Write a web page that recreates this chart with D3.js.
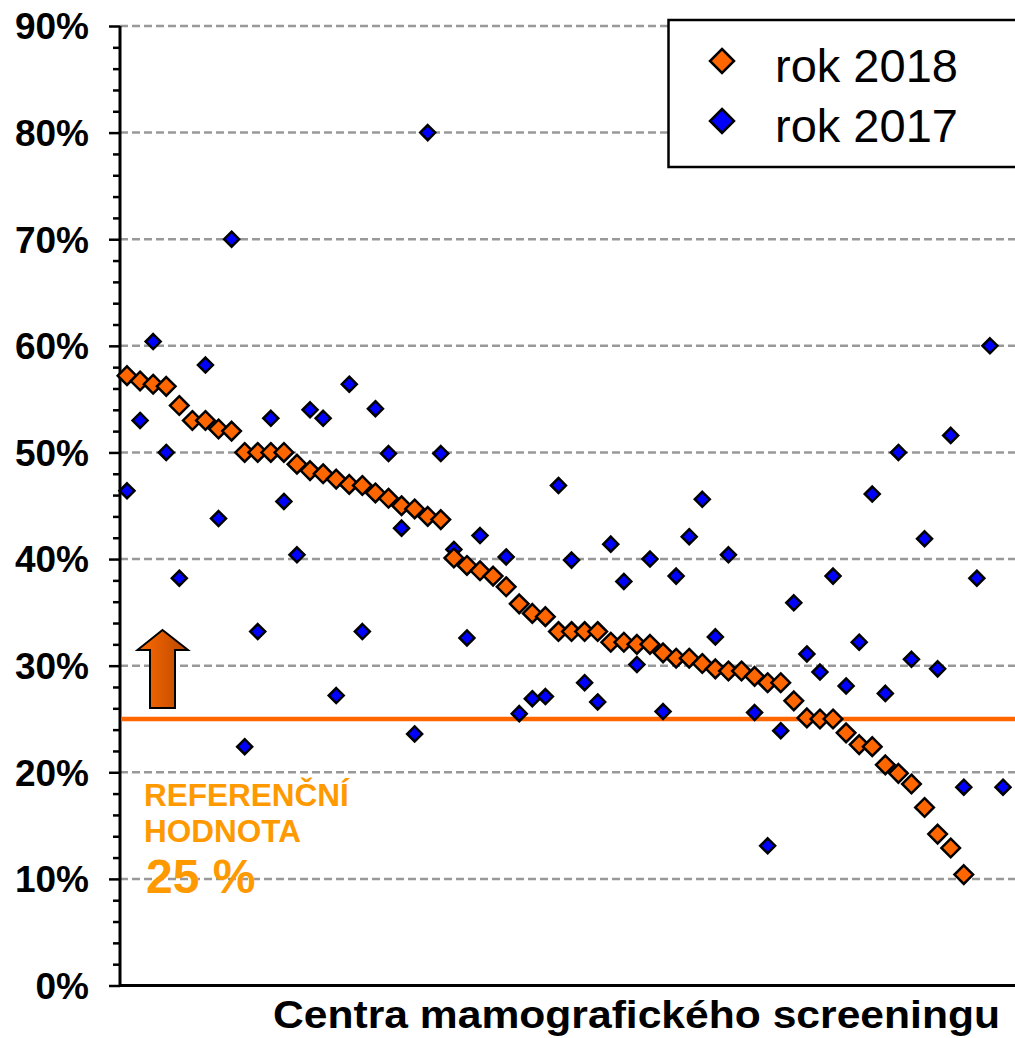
<!DOCTYPE html>
<html>
<head>
<meta charset="utf-8">
<script src="https://cdn.jsdelivr.net/npm/d3@7"></script>
<style>
  body { margin: 0; background: #fff; }
  svg { display: block; font-family: "Liberation Sans", Arial, sans-serif; }
</style>
</head>
<body>
<svg id="chart" width="1015" height="1038"></svg>
<script>
// values in percent (one entry per centre)
let rok2018 = [57.2, 56.7, 56.4, 56.2, 54.4, 53.0, 53.0, 52.2, 52.0, 50.0,
  50.0, 50.0, 50.0, 48.9, 48.3, 48.0, 47.5, 47.0, 46.9, 46.2,
  45.7, 45.0, 44.7, 44.0, 43.7, 40.1, 39.4, 38.9, 38.4, 37.4,
  35.8, 34.9, 34.6, 33.2, 33.2, 33.2, 33.2, 32.2, 32.2, 32.0,
  32.0, 31.2, 30.7, 30.7, 30.2, 29.7, 29.5, 29.5, 29.0, 28.4,
  28.4, 26.7, 25.1, 25.0, 25.0, 23.7, 22.6, 22.4, 20.7, 19.9,
  18.9, 16.7, 14.2, 12.9, 10.4];

let rok2017 = [46.4, 53.0, 60.4, 50.0, 38.2, null, 58.2, 43.8, 70.0, 22.4,
  33.2, 53.2, 45.4, 40.4, 54.0, 53.2, 27.2, 56.4, 33.2, 54.1,
  49.9, 42.9, 23.6, 80.0, 49.9, 40.9, 32.6, 42.2, null, 40.2,
  25.5, 26.9, 27.1, 46.9, 39.9, 28.4, 26.6, 41.4, 37.9, 30.1,
  40.0, 25.7, 38.4, 42.1, 45.6, 32.7, 40.4, null, 25.6, 13.1,
  23.9, 35.9, 31.1, 29.4, 38.4, 28.1, 32.2, 46.1, 27.4, 50.0,
  30.6, 41.9, 29.7, 51.6, 18.6, 38.2, 60.0, 18.6];

let centra = d3.range(1, rok2017.length + 1);
let yTicks = [0, 10, 20, 30, 40, 50, 60, 70, 80, 90];
let referencni = 25;
let legendItems = ["rok 2018", "rok 2017"];

let svg = d3.select("#chart");
let plotLeft = 120, plotRight = 1015, plotTop = 26, plotBottom = 985.5;

let x = d3.scalePoint()
  .domain(centra)
  .range([127, 1003]);

let y = d3.scaleLinear()
  .domain([0, 90])
  .range([plotBottom, plotTop]);

function diamond(r){
  return "M0," + (-r) + "L" + r + ",0L0," + r + "L" + (-r) + ",0Z";
}

// dashed grid
svg.append("g")
  .selectAll("line")
  .data(yTicks.filter(d => d > 0))
  .join("line")
  .attr("x1", plotLeft).attr("x2", plotRight)
  .attr("y1", d => y(d)).attr("y2", d => y(d))
  .attr("stroke", "#999")
  .attr("stroke-width", 2.5)
  .attr("stroke-dasharray", "8,4");

// y axis with minor ticks every 2 %
let yAxis = svg.append("g")
  .attr("transform", "translate(" + plotLeft + ",0)")
  .call(d3.axisLeft(y).tickValues(d3.range(0, 91, 2)).tickSize(7).tickFormat(""));
yAxis.select(".domain").remove();
yAxis.selectAll(".tick line").attr("stroke", "#000").attr("stroke-width", 2.5);
yAxis.selectAll(".tick").filter(d => d % 10 === 0).select("line").attr("x2", -11);

svg.append("line")
  .attr("x1", plotLeft).attr("x2", plotLeft)
  .attr("y1", y(90)).attr("y2", plotBottom + 1.5)
  .attr("stroke", "#000").attr("stroke-width", 3);

svg.append("g")
  .selectAll("text")
  .data(yTicks)
  .join("text")
  .attr("x", 89)
  .attr("y", d => y(d))
  .attr("dy", "0.36em")
  .attr("text-anchor", "end")
  .attr("font-size", 37)
  .attr("font-weight", "bold")
  .text(d => d + "%");

// x axis line
svg.append("line")
  .attr("x1", plotLeft).attr("x2", plotRight)
  .attr("y1", plotBottom).attr("y2", plotBottom)
  .attr("stroke", "#000").attr("stroke-width", 3);

svg.append("text")
  .attr("x", 273)
  .attr("y", 1028)
  .attr("font-size", 38)
  .attr("font-weight", "bold")
  .attr("textLength", 727)
  .attr("lengthAdjust", "spacingAndGlyphs")
  .text("Centra mamografického screeningu");

// reference value
let refY = y(referencni);
svg.append("line")
  .attr("x1", plotLeft + 1).attr("x2", plotRight)
  .attr("y1", refY).attr("y2", refY)
  .attr("stroke", "#ff6600").attr("stroke-width", 4.5);

let grad = svg.append("defs").append("linearGradient")
  .attr("id", "arrowGrad").attr("x1", "0").attr("x2", "1").attr("y1", "0").attr("y2", "0");
grad.append("stop").attr("offset", "0").attr("stop-color", "#ff6a00");
grad.append("stop").attr("offset", "1").attr("stop-color", "#b84800");

svg.append("path")
  .attr("d", "M150," + (refY - 11) + "V" + (refY - 69) + "H137.5L162.5," + (refY - 89) +
    "L188," + (refY - 69) + "H175V" + (refY - 11) + "Z")
  .attr("fill", "url(#arrowGrad)")
  .attr("stroke", "#000")
  .attr("stroke-width", 2);

let refText = svg.append("g").attr("fill", "#ff9900").attr("font-weight", "bold");
refText.append("text").attr("x", 144).attr("y", 806).attr("font-size", 31.5).text("REFERENČNÍ");
refText.append("text").attr("x", 144).attr("y", 842).attr("font-size", 31.5).text("HODNOTA");
refText.append("text").attr("x", 146).attr("y", 893).attr("font-size", 48).text("25 %");

// 2017 under, 2018 on top
svg.append("g")
  .selectAll("path")
  .data(rok2017.map((v, i) => ({c: centra[i], v: v})).filter(d => d.v != null))
  .join("path")
  .attr("transform", d => "translate(" + x(d.c) + "," + y(d.v) + ")")
  .attr("d", diamond(7.5))
  .attr("fill", "#0000ff")
  .attr("stroke", "#000")
  .attr("stroke-width", 2.5);

svg.append("g")
  .selectAll("path")
  .data(rok2018.map((v, i) => ({c: centra[i], v: v})))
  .join("path")
  .attr("transform", d => "translate(" + x(d.c) + "," + y(d.v) + ")")
  .attr("d", diamond(9.3))
  .attr("fill", "#ff6600")
  .attr("stroke", "#000")
  .attr("stroke-width", 2.5);

// legend
let legend = svg.append("g");
legend.append("rect")
  .attr("x", 668.5).attr("y", 20)
  .attr("width", 400).attr("height", 147)
  .attr("fill", "#fff")
  .attr("stroke", "#000").attr("stroke-width", 2.5);

let legendColors = ["#ff6600", "#0000ff"];
legendItems.forEach((name, i) => {
  let ly = 61 + i * 60;
  legend.append("path")
    .attr("transform", "translate(722," + ly + ")")
    .attr("d", diamond(12))
    .attr("fill", legendColors[i])
    .attr("stroke", "#000")
    .attr("stroke-width", 2.5);
  legend.append("text")
    .attr("x", 775).attr("y", ly + 21)
    .attr("font-size", 47)
    .text(name);
});
</script>
</body>
</html>
